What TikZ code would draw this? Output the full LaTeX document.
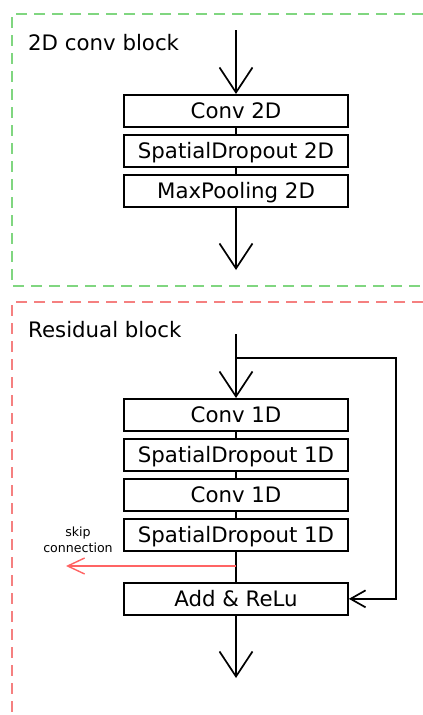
\documentclass[tikz,border=0pt]{standalone}
\usepackage{fontspec}
\setmainfont{DejaVu Sans}
\usetikzlibrary{arrows.meta}
\definecolor{blockgreen}{RGB}{128,214,128}
\definecolor{blockred}{RGB}{245,128,128}
\definecolor{skipred}{RGB}{255,100,100}
\tikzset{
  layer/.style={draw=black, line width=1.7, minimum width=224, minimum height=32,
    inner sep=0, text height=15.4, text depth=0,
    font=\fontsize{21.3}{24}\selectfont, anchor=north},
  flow/.style={draw=black, line width=1.7},
  bigtip/.style={-{Straight Barb[length=25,width=33,line width=1.7]}},
  frame/.style={dash pattern=on 11 off 7, line width=1.6},
  title/.style={anchor=base west, font=\fontsize{21.3}{24}\selectfont, inner sep=0},
  note/.style={anchor=base, font=\fontsize{12.6}{16}\selectfont, inner sep=0},
}
\begin{document}
\begin{tikzpicture}[x=1pt,y=-1pt]
\useasboundingbox (0,0) rectangle (423,715);

% frames (open on the right)
\draw[frame, blockgreen] (423,14) -- (12,14) -- (12,286) -- (423,286);
\draw[frame, blockred] (423,302) -- (12,302) -- (12,715);

% 2D conv block
\node[title] (t1) at (28,50) {2D conv block};
\coordinate (in1) at (236,30);
\node[layer] (c2) at (236,94) {Conv 2D};
\node[layer] (s2) at (236,134) {SpatialDropout 2D};
\node[layer] (m2) at (236,174) {MaxPooling 2D};
\coordinate (out1) at (236,270);
\draw[flow, bigtip] (in1) -- (c2.north);
\draw[flow] (c2.south) -- (s2.north);
\draw[flow] (s2.south) -- (m2.north);
\draw[flow, bigtip] (m2.south) -- (out1);

% residual block
\node[title] (t2) at (28,337) {Residual block};
\coordinate (in2) at (236,334);
\coordinate (br) at (236,358);
\node[layer] (c1a) at (236,398) {Conv 1D};
\node[layer] (s1a) at (236,438) {SpatialDropout 1D};
\node[layer] (c1b) at (236,478) {Conv 1D};
\node[layer] (s1b) at (236,518) {SpatialDropout 1D};
\node[layer] (add) at (236,582) {Add \& ReLu};
\coordinate (out2) at (236,678);
\coordinate (sk) at (236,566);
\coordinate (skend) at (66,566);
\draw[flow, bigtip] (in2) -- (c1a.north);
\draw[flow] (c1a.south) -- (s1a.north);
\draw[flow] (s1a.south) -- (c1b.north);
\draw[flow] (c1b.south) -- (s1b.north);
\draw[flow] (s1b.south) -- (add.north);
\draw[flow, bigtip] (add.south) -- (out2);
\draw[flow, -{Straight Barb[length=15,width=17,line width=1.7]}]
  (br) -- (396,358) |- (add.east);
\draw[skipred, line width=1.4, -{Straight Barb[length=17,width=16,line width=1.4]}]
  (sk) -- (skend);
\node[note] (skl1) at (78,536.5) {skip};
\node[note] (skl2) at (78,552.5) {connection};
\end{tikzpicture}
\end{document}
